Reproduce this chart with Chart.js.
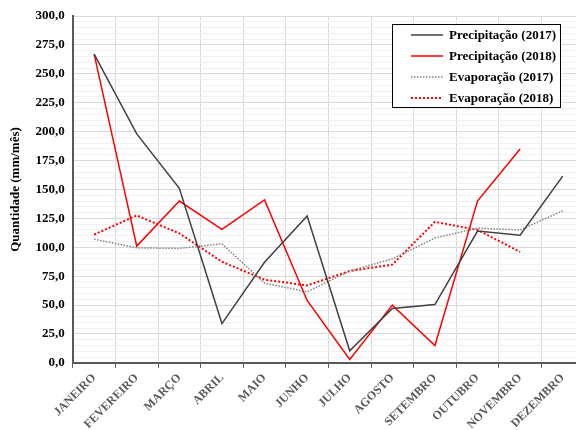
<!DOCTYPE html>
<html>
<head>
<meta charset="utf-8">
<script src="https://cdn.jsdelivr.net/npm/chart.js@4"></script>
<style>
  html, body { margin: 0; padding: 0; background: #fff; overflow: hidden; }
  #wrap { width: 600px; height: 435px; }
</style>
</head>
<body>
<div id="wrap"><canvas id="chuva"></canvas></div>
<script>
const meses = ["JANEIRO", "FEVEREIRO", "MARÇO", "ABRIL", "MAIO", "JUNHO", "JULHO",
  "AGOSTO", "SETEMBRO", "OUTUBRO", "NOVEMBRO", "DEZEMBRO"];

const precip2017 = [267, 198, 151, 34, 87, 127, 10.5, 47, 50.5, 114, 110.5, 161.5];
const precip2018 = [267, 101, 140, 115.5, 141, 54, 3, 50, 15, 140, 185, null];
const evap2017 = [107, 99.5, 99, 103, 69, 61.5, 79.5, 90, 108, 116.5, 115, 131.5];
const evap2018 = [111, 127.5, 112, 87.5, 72, 67, 79.5, 85, 122, 115, 96, null];

const FONTE = "'Liberation Serif', 'Times New Roman', serif";

// legenda desenhada dentro da área do gráfico, com moldura
const legendaCaixa = {
  id: "legendaCaixa",
  afterDraw(chart) {
    const ctx = chart.ctx;
    const x0 = 392, y0 = 24, w = 168, h = 83;
    ctx.save();
    ctx.fillStyle = "#fff";
    ctx.fillRect(x0, y0, w, h);
    ctx.strokeStyle = "#000";
    ctx.lineWidth = 1;
    ctx.strokeRect(x0 + 0.5, y0 + 0.5, w, h);
    ctx.font = "bold 13px " + FONTE;
    ctx.textBaseline = "middle";
    chart.data.datasets.forEach((ds, i) => {
      const y = 35 + i * 21;
      ctx.beginPath();
      ctx.strokeStyle = ds.borderColor;
      ctx.lineWidth = ds.borderWidth;
      ctx.setLineDash(ds.borderDash || []);
      ctx.moveTo(411, y);
      ctx.lineTo(443, y);
      ctx.stroke();
      ctx.setLineDash([]);
      ctx.fillStyle = "#000";
      ctx.fillText(ds.label, 449, y + 1);
    });
    ctx.restore();
  },
};

new Chart(document.getElementById("chuva"), {
  type: "line",
  data: {
    labels: meses,
    datasets: [
      { label: "Precipitação (2017)", data: precip2017, borderColor: "#404040", borderWidth: 1.5 },
      { label: "Precipitação (2018)", data: precip2018, borderColor: "#ff0000", borderWidth: 1.5 },
      { label: "Evaporação (2017)", data: evap2017, borderColor: "#808080", borderWidth: 1.5, borderDash: [1.5, 1.5] },
      { label: "Evaporação (2018)", data: evap2018, borderColor: "#ff0000", borderWidth: 2, borderDash: [2, 2] },
    ],
  },
  options: {
    responsive: true,
    maintainAspectRatio: false,
    animation: false,
    spanGaps: false,
    elements: { point: { radius: 0 }, line: { tension: 0 } },
    layout: { padding: { top: 16, right: 16, bottom: 0, left: 4 } },
    plugins: { legend: { display: false }, tooltip: { enabled: false } },
    scales: {
      x: {
        offset: true,
        grid: { offset: true, color: "#d9d9d9", tickColor: "#595959", tickLength: 5 },
        border: { color: "#595959", width: 2 },
        ticks: {
          maxRotation: 45, minRotation: 45, autoSkip: false,
          color: "#595959",
          font: { family: FONTE, size: 12, weight: "bold" },
        },
      },
      y: {
        min: 0, max: 300,
        grid: {
          drawTicks: false,
          color: (c) => (c.tick && c.tick.value % 25 === 0 ? "#d9d9d9" : "#f0f0f0"),
        },
        border: { color: "#595959", width: 2 },
        title: {
          display: true, text: "Quantidade (mm/mês)", color: "#000",
          font: { family: FONTE, size: 13, weight: "bold" }, padding: 4,
        },
        ticks: {
          stepSize: 5, autoSkip: false, padding: 8, color: "#000",
          font: { family: FONTE, size: 13, weight: "bold" },
          callback: (v) => (v % 25 === 0 ? v.toFixed(1).replace(".", ",") : ""),
        },
      },
    },
  },
  plugins: [legendaCaixa],
});
</script>
</body>
</html>
